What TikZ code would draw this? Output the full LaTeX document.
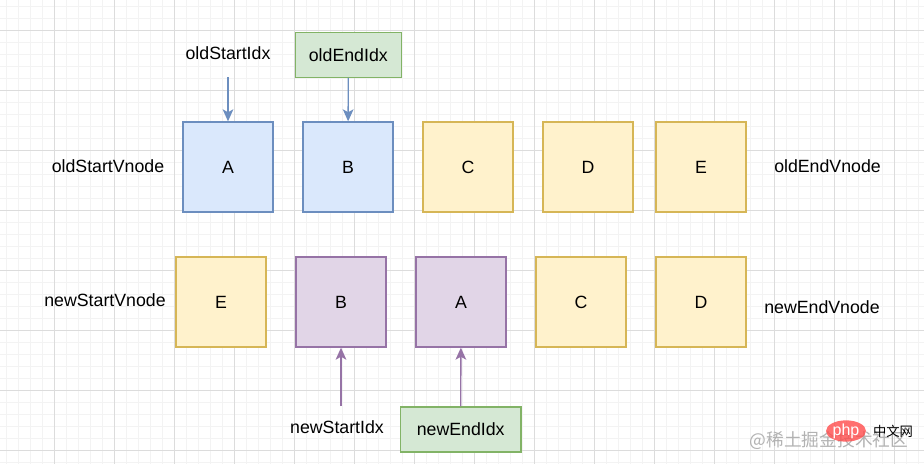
\documentclass[tikz,border=0pt]{standalone}
\usepackage{fontspec}
\setmainfont{Liberation Sans}
\newfontfamily\cjk{Noto Sans CJK SC}
\usetikzlibrary{arrows.meta,positioning,shapes.geometric}
\definecolor{bluefill}{HTML}{DAE8FC}
\definecolor{bluedraw}{HTML}{6C8EBF}
\definecolor{yelfill}{HTML}{FFF2CC}
\definecolor{yeldraw}{HTML}{D6B656}
\definecolor{purfill}{HTML}{E1D5E7}
\definecolor{purdraw}{HTML}{9673A6}
\definecolor{grnfill}{HTML}{D5E8D4}
\definecolor{grndraw}{HTML}{82B366}
\definecolor{gridmajor}{HTML}{DCDCDC}
\definecolor{gridminor}{HTML}{F3F3F3}
\tikzset{>={Stealth[length=9pt,width=8pt,inset=2.2pt]},
txt/.style={font=\fontsize{13.3}{16}\selectfont,inner sep=1pt},
bx/.style={rectangle,draw,line width=1pt,minimum size=67.5pt,inner sep=0pt,txt},
vb/.style={bx,fill=bluefill,draw=bluedraw},
vy/.style={bx,fill=yelfill,draw=yeldraw},
vp/.style={bx,fill=purfill,draw=purdraw},
ib/.style={rectangle,draw=grndraw,fill=grnfill,line width=1pt,minimum height=33.75pt,inner sep=0pt,txt},
ob/.style={->,draw=bluedraw,line width=1pt},
np/.style={->,draw=purdraw,line width=1pt},
}

\begin{document}
\begin{tikzpicture}[x=0.75pt,y=-0.75pt]
\useasboundingbox (0,0) rectangle (924,464);
\fill[white] (0,0) rectangle (924,464);
% grid
\foreach \x in {6.3,18.3,...,924} \draw[gridminor,line width=0.6pt] (\x,0) -- (\x,464);
\foreach \y in {6,18,...,464} \draw[gridminor,line width=0.6pt] (0,\y) -- (924,\y);
\foreach \x in {54.3,114.3,...,924} \draw[gridmajor,line width=0.6pt] (\x,0) -- (\x,464);
\foreach \y in {30,90,...,464} \draw[gridmajor,line width=0.6pt] (0,\y) -- (924,\y);

% old vnodes
\node[vb] (oA) at (228,167) {A};
\node[vb] (oB) at (348,167) {B};
\node[vy] (oC) at (468,167) {C};
\node[vy] (oD) at (588,167) {D};
\node[vy] (oE) at (701,167) {E};
\node[txt] (osv) at (108,166) {oldStartVnode};
\node[txt] (oev) at (827.5,166) {oldEndVnode};

% new vnodes
\node[vy] (nE) at (221,302) {E};
\node[vp] (nB) at (341,302) {B};
\node[vp] (nA) at (461,302) {A};
\node[vy] (nC) at (581,302) {C};
\node[vy] (nD) at (701,302) {D};
\node[txt] (nsv) at (105,300) {newStartVnode};
\node[txt] (nev) at (822,307) {newEndVnode};

% indexes
\node[txt] (osi) at (228,53) {oldStartIdx};
\coordinate (osifoot) at (228,77);
\node[ib,minimum width=79.5pt] (oei) at (348.3,54.7) {oldEndIdx};
\node[txt] (nsi) at (337,427) {newStartIdx};
\coordinate (nsifoot) at (341,406);
\node[ib,minimum width=90.5pt] (nei) at (460.7,429.5) {newEndIdx};

\path
(osifoot) edge[ob] (oA)
(oei) edge[ob] (oB)
(nsifoot) edge[np] (nB)
(nei) edge[np] (nA)
;

% watermark
\node[text=gray!60,font=\cjk\fontsize{13.3}{15}\selectfont,inner sep=0pt] (wm) at (829,440) {@稀土掘金技术社区};
\node[ellipse,fill=red!70,fill opacity=0.8,text opacity=1,text=white,minimum width=30pt,minimum height=16pt,inner sep=0pt,font=\fontsize{12}{13}\selectfont] (php) at (846,431) {php};
\node[font=\cjk\fontsize{10}{12}\selectfont,inner sep=0pt] (zw) at (893,431) {中文网};
\end{tikzpicture}
\end{document}
